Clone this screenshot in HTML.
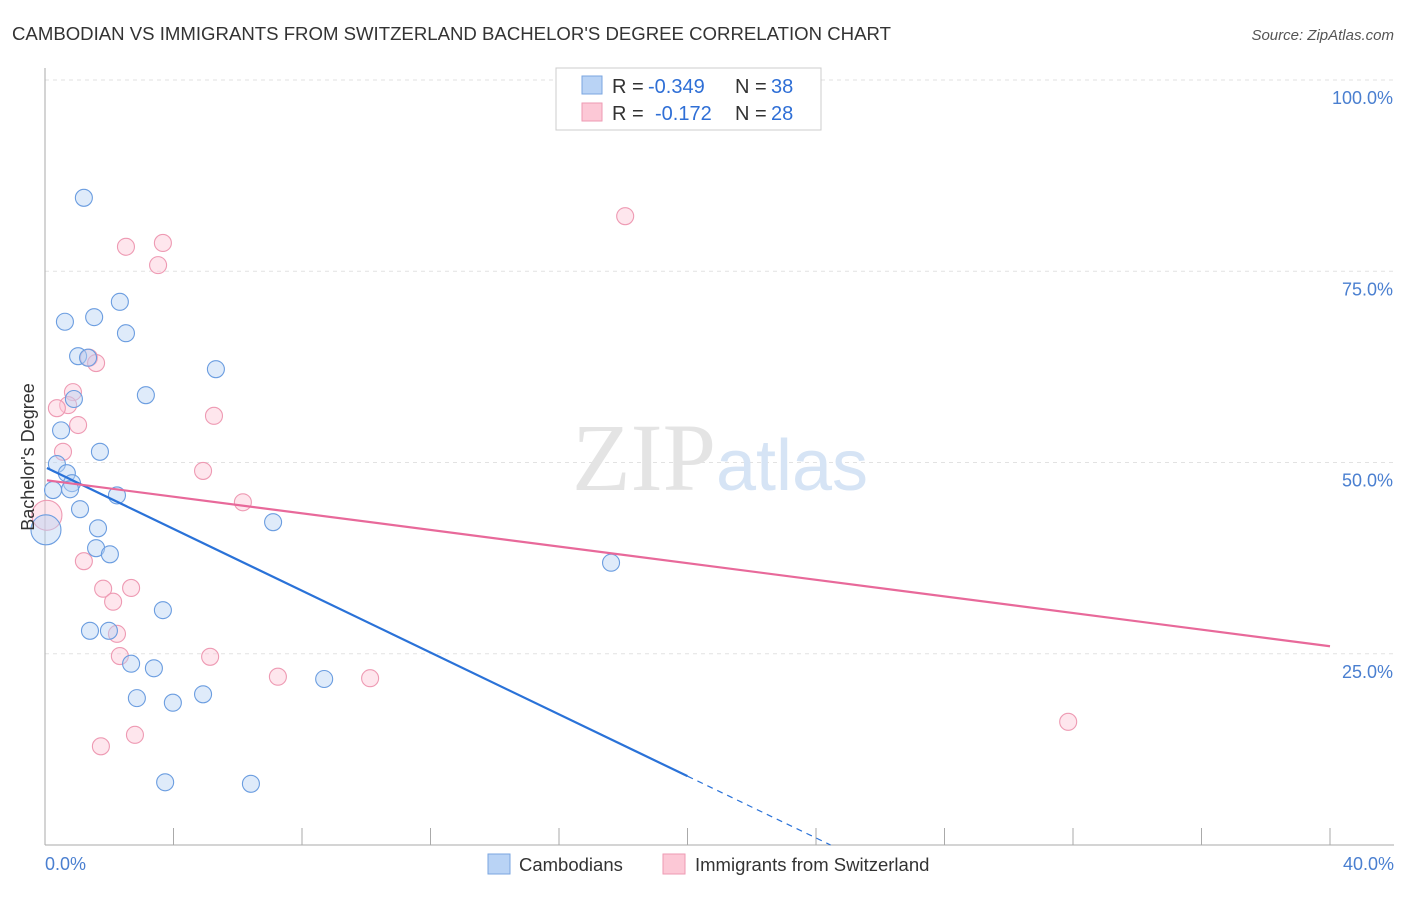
<!DOCTYPE html>
<html><head><meta charset="utf-8"><style>
body{margin:0;background:#fff;font-family:"Liberation Sans",sans-serif}
</style></head><body>
<svg width="1406" height="892" xmlns="http://www.w3.org/2000/svg" font-family="Liberation Sans, sans-serif">
<text x="12" y="40" font-size="18.6" fill="#333">CAMBODIAN VS IMMIGRANTS FROM SWITZERLAND BACHELOR'S DEGREE CORRELATION CHART</text>
<text x="1394" y="40" font-size="15" fill="#555" text-anchor="end" font-style="italic">Source: ZipAtlas.com</text>
<g id="grid"></g>
<text x="720" y="490" font-size="96" fill="#e4e4e4" text-anchor="middle" font-family="Liberation Serif, serif">ZIP<tspan fill="#d6e4f5" font-family="Liberation Sans, sans-serif" font-size="72">atlas</tspan></text>
<g id="marks"></g>
<text transform="translate(34,457) rotate(-90)" font-size="18" fill="#333" text-anchor="middle">Bachelor's Degree</text>
<text x="45" y="870" font-size="18" fill="#4a7fd0">0.0%</text>
<text x="1394" y="870" font-size="18" fill="#4a7fd0" text-anchor="end">40.0%</text>
<g font-size="20">
<rect x="556" y="68" width="265" height="62" fill="#fff" stroke="#ccc"/>
<rect x="582" y="76" width="20" height="18" fill="#b9d3f5" stroke="#7aa6e0"/>
<text x="612" y="93" fill="#333">R =</text><text x="648" y="93" fill="#2f6fd6">-0.349</text>
<text x="735" y="93" fill="#333">N =</text><text x="771" y="93" fill="#2f6fd6">38</text>
<rect x="582" y="103" width="20" height="18" fill="#fcc8d6" stroke="#ee9ab3"/>
<text x="612" y="120" fill="#333">R =</text><text x="655" y="120" fill="#2f6fd6">-0.172</text>
<text x="735" y="120" fill="#333">N =</text><text x="771" y="120" fill="#2f6fd6">28</text>
</g>
<g>
<rect x="488" y="854" width="22" height="20" fill="#b9d3f5" stroke="#7aa6e0"/>
<text x="519" y="871" font-size="18.5" fill="#333">Cambodians</text>
<rect x="663" y="854" width="22" height="20" fill="#fcc8d6" stroke="#ee9ab3"/>
<text x="695" y="871" font-size="18.5" fill="#333">Immigrants from Switzerland</text>
</g>
</svg>
<script>
const xTicks=[0,4,8,12,16,20,24,28,32,36,40];
const yTicks=[25,50,75,100];
const yTickLabels=["25.0%","50.0%","75.0%","100.0%"];
const blueX=[1.21,0.62,1.53,2.33,2.52,1.03,1.34,5.32,3.14,0.90,0.50,1.71,0.37,0.68,0.25,0.84,0.78,2.24,1.09,1.65,7.10,1.59,2.02,17.62,3.67,1.40,1.99,3.39,2.68,2.86,3.98,4.92,8.69,3.74,6.41,0.03];
const blueY=[84.6,68.4,69.0,71.0,66.9,63.9,63.7,62.2,58.8,58.3,54.2,51.4,49.8,48.6,46.4,47.3,46.5,45.7,43.9,41.4,42.2,38.8,38.0,36.9,30.7,28.0,28.0,23.1,23.7,19.2,18.6,19.7,21.7,8.2,8.0,41.2];
const pinkX=[18.06,2.52,3.67,3.52,1.37,1.59,0.87,0.72,0.37,1.03,5.26,0.56,4.92,6.16,1.21,1.81,2.68,2.12,2.24,2.33,5.14,7.25,10.12,2.80,1.74,31.85,0.06];
const pinkY=[82.2,78.2,78.7,75.8,63.7,63.0,59.2,57.5,57.1,54.9,56.1,51.4,48.9,44.8,37.1,33.5,33.6,31.8,27.6,24.7,24.6,22.0,21.8,14.4,12.9,16.1,43.1];
const blueTrend=[49.4,-2.02]; const pinkTrend=[47.7,-0.543];
const NS="http://www.w3.org/2000/svg";
const X=v=>45+v/40*1285, Y=v=>845-v/100*765;
function mk(t,a,p){const e=document.createElementNS(NS,t);for(const k in a)e.setAttribute(k,a[k]);p.appendChild(e);return e;}
const g=document.getElementById('grid'), m=document.getElementById('marks');
yTicks.forEach((t,i)=>{const l=mk('line',{x1:45,x2:1394,y1:Y(t),y2:Y(t),stroke:'#e2e2e2','stroke-dasharray':'4,4'},g);


const tx=mk('text',{x:1393,y:Y(t)+24,'font-size':18,fill:'#4a7fd0','text-anchor':'end'},g);tx.textContent=yTickLabels[i];

});
const ax=mk('line',{x1:45,x2:45,y1:68,y2:845,stroke:'#aaa'},g);


const bx=mk('line',{x1:45,x2:1394,y1:845,y2:845,stroke:'#aaa'},g);


xTicks.forEach(t=>{const l=mk('line',{x1:X(t),x2:X(t),y1:828,y2:845,stroke:'#aaa'},g);

});
function pts(xs,ys,fill,stroke,name){xs.forEach((x,i)=>{const big=i===xs.length-1;const c=mk('circle',{cx:X(x),cy:Y(ys[i]),r:big?15:8.5,fill:fill,'fill-opacity':0.45,stroke:stroke,'stroke-width':1.1},m);

});}
pts(pinkX,pinkY,'#fcc8d6','#ee9ab3','pink-point');
pts(blueX,blueY,'#b9d3f5','#6b9de0','blue-point');
const by=x=>blueTrend[0]+blueTrend[1]*x, py=x=>pinkTrend[0]+pinkTrend[1]*x;
const b1=mk('line',{x1:X(0.06),y1:Y(by(0.06)),x2:X(20),y2:Y(by(20)),stroke:'#2a72d8','stroke-width':2.2},m);


const xe=blueTrend[0]/-blueTrend[1];
const b2=mk('line',{x1:X(20),y1:Y(by(20)),x2:X(xe),y2:Y(0),stroke:'#2a72d8','stroke-width':1.2,'stroke-dasharray':'6,5'},m);


const p1=mk('line',{x1:X(0.06),y1:Y(py(0.06)),x2:X(40),y2:Y(py(40)),stroke:'#e8699a','stroke-width':2.2},m);


</script>
</body></html>
